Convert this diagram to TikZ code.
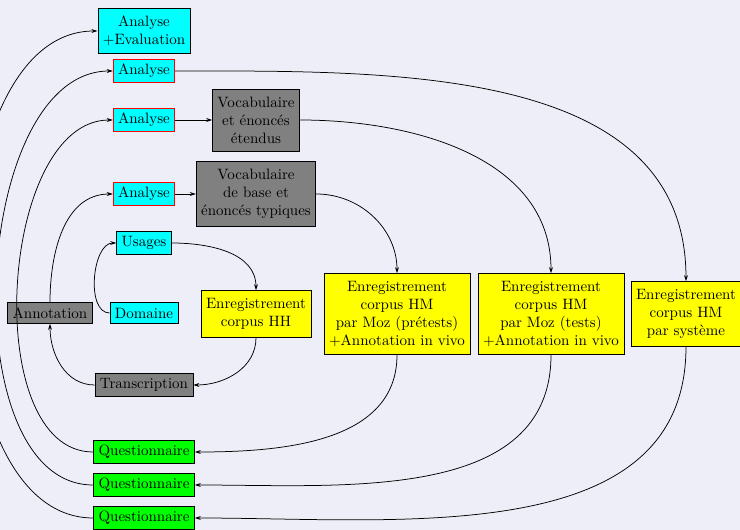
\documentclass[tikz,border=0pt]{standalone}
\usetikzlibrary{arrows.meta}
\definecolor{bgcol}{RGB}{238,238,248}
\definecolor{cyanc}{RGB}{0,255,255}
\definecolor{yelc}{RGB}{255,255,0}
\definecolor{greenc}{RGB}{0,255,0}
\definecolor{grayc}{RGB}{128,128,128}
\begin{document}
\begin{tikzpicture}[x=0.6667pt,y=0.6667pt,
  box/.style={draw=black,align=center,inner sep=3.3pt,line width=0.5pt},
  multi/.style={inner ysep=5.2pt},
  cyanbox/.style={box,fill=cyanc},
  redbox/.style={box,fill=cyanc,draw=red},
  graybox/.style={box,fill=grayc},
  yelbox/.style={box,fill=yelc,multi},
  greenbox/.style={box,fill=greenc},
  arr/.style={-{Stealth[length=4pt,width=2.6pt]},line width=0.5pt},
  lp/.style={looseness=0.875}]
\fill[bgcol] (0,0) rectangle (740,-530);
\useasboundingbox (0,0) rectangle (740,-530);

\node[cyanbox,multi] (ae) at (144,-31) {Analyse\\+Evaluation};
\node[redbox] (a1) at (144,-71) {Analyse};
\node[redbox] (a2) at (144,-120) {Analyse};
\node[graybox,multi] (ve) at (256,-120) {Vocabulaire\\et énoncés\\étendus};
\node[redbox] (a3) at (144,-194) {Analyse};
\node[graybox,multi] (vb) at (256,-194) {Vocabulaire\\de base et\\énoncés typiques};
\node[cyanbox] (us) at (144,-243) {Usages};
\node[cyanbox] (do) at (144,-313) {Domaine};
\node[graybox] (an) at (50,-313) {Annotation};
\node[yelbox] (hh) at (256,-314) {Enregistrement\\corpus HH};
\node[graybox] (tr) at (144,-385) {Transcription};
\node[yelbox] (hm1) at (397,-314) {Enregistrement\\corpus HM\\par Moz (prétests)\\+Annotation in vivo};
\node[yelbox] (hm2) at (551,-314) {Enregistrement\\corpus HM\\par Moz (tests)\\+Annotation in vivo};
\node[yelbox] (hm3) at (686,-314) {Enregistrement\\corpus HM\\par système};
\node[greenbox] (q1) at (144,-452) {Questionnaire};
\node[greenbox] (q2) at (144,-485) {Questionnaire};
\node[greenbox] (q3) at (144,-518) {Questionnaire};

\draw[arr] (q3.west) to[out=180,in=180,lp] (ae.west);
\draw[arr] (q2.west) to[out=180,in=180,lp] (a1.west);
\draw[arr] (q1.west) to[out=180,in=180,lp] (a2.west);
\draw[arr] (an.north) to[out=90,in=180] (a3.west);
\draw[arr] (tr.west) to[out=180,in=-90] (an.south);
\draw[arr] (do.west) to[out=180,in=180,lp] (us.west);
\draw[arr] (us.east) to[out=0,in=90] (hh.north);
\draw[arr] (hh.south) to[out=-90,in=0] (tr.east);
\draw[arr] (a2.east) -- (ve.west);
\draw[arr] (a3.east) -- (vb.west);
\draw[arr] (vb.east) to[out=0,in=90] (hm1.north);
\draw[arr] (ve.east) to[out=0,in=90] (hm2.north);
\draw[arr] (a1.east) to[out=0,in=90] (hm3.north);
\draw[arr] (hm1.south) to[out=-90,in=0] (q1.east);
\draw[arr] (hm2.south) to[out=-90,in=0] (q2.east);
\draw[arr] (hm3.south) to[out=-90,in=0] (q3.east);
\end{tikzpicture}
\end{document}
